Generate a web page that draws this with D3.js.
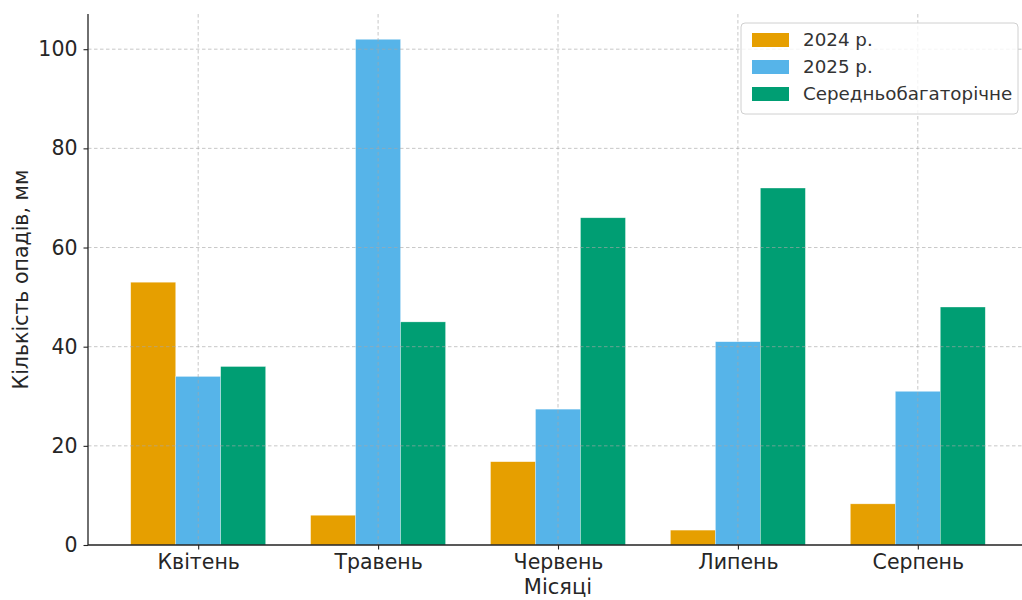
<!DOCTYPE html>
<html>
<head>
<meta charset="utf-8">
<script src="https://cdn.jsdelivr.net/npm/d3@7"></script>
<style>
  html, body { margin: 0; padding: 0; background: #fff; }
  svg { display: block; font-family: "DejaVu Sans", sans-serif; }
</style>
</head>
<body>
<svg id="chart" width="1022" height="600"></svg>
<script>
// Monthly precipitation, mm
const months = ["Квітень", "Травень", "Червень", "Липень", "Серпень"];
const seriesNames = ["2024 р.", "2025 р.", "Середньобагаторічне"];
const values2024 = [53, 6, 16.8, 3, 8.3];
const values2025 = [34, 102, 27.4, 41, 31];
const valuesNorm = [36, 45, 66, 72, 48];
const yTicks = [0, 20, 40, 60, 80, 100];
const colors = ["#E69F00", "#56B4E9", "#009E73"];

const series = [values2024, values2025, valuesNorm];

const svg = d3.select("#chart");
const plotLeft = 88, plotRight = 1028, plotTop = 14, plotBottom = 545;

const barW = 0.25;
const x = d3.scaleLinear()
  .domain([-0.6125, months.length - 1 + 0.6125])
  .range([plotLeft, plotRight]);
const yMax = d3.max(series.flat()) * 1.05;
const y = d3.scaleLinear().domain([0, yMax]).range([plotBottom, plotTop]);

// Bars
series.forEach((vals, si) => {
  svg.append("g")
    .selectAll("rect")
    .data(vals)
    .join("rect")
    .attr("x", (d, i) => x(i + (si - 1) * barW - barW / 2))
    .attr("width", x(barW) - x(0))
    .attr("y", d => y(d))
    .attr("height", d => y(0) - y(d))
    .attr("fill", colors[si])
    .attr("stroke", "#fff")
    .attr("stroke-opacity", 0.5)
    .attr("stroke-width", 0.6);
});

// Dashed grid on top of bars
const grid = svg.append("g").attr("stroke", "#a8a8a8").attr("stroke-opacity", 0.7)
  .attr("stroke-width", 0.9).attr("stroke-dasharray", "3.5,2.5");
grid.selectAll("line.h").data(yTicks.filter(t => t > 0)).join("line")
  .attr("x1", plotLeft).attr("x2", plotRight)
  .attr("y1", d => y(d)).attr("y2", d => y(d));
grid.selectAll("line.v").data(months.map((m, i) => i)).join("line")
  .attr("x1", d => x(d)).attr("x2", d => x(d))
  .attr("y1", plotTop).attr("y2", plotBottom);

// Axes
const xAxis = d3.axisBottom(x)
  .tickValues(months.map((m, i) => i))
  .tickFormat(i => months[i])
  .tickSize(4.5).tickPadding(5);
const yAxis = d3.axisLeft(y)
  .tickValues(yTicks)
  .tickSize(4.5).tickPadding(6);

const gx = svg.append("g").attr("transform", `translate(0,${plotBottom})`).call(xAxis);
const gy = svg.append("g").attr("transform", `translate(${plotLeft},0)`).call(yAxis);
[gx, gy].forEach(g => {
  g.select(".domain").attr("stroke", "#222").attr("stroke-width", 1.3);
  g.selectAll(".tick line").attr("stroke", "#222").attr("stroke-width", 1.1);
  g.selectAll(".tick text").attr("fill", "#262626").style("font-size", "20.5px")
    .style("font-family", "'DejaVu Sans', sans-serif");
});
gx.select(".domain").attr("d", `M${plotLeft},0H${plotRight}`);
gy.select(".domain").attr("d", `M0,${plotBottom}V${plotTop}`);

// Axis titles
svg.append("text")
  .attr("x", 558).attr("y", 594)
  .attr("text-anchor", "middle")
  .attr("fill", "#262626").style("font-size", "21px")
  .text("Місяці");
svg.append("text")
  .attr("transform", `translate(28,${(plotTop + plotBottom) / 2}) rotate(-90)`)
  .attr("text-anchor", "middle")
  .attr("fill", "#262626").style("font-size", "20.5px")
  .text("Кількість опадів, мм");

// Legend
const lg = svg.append("g").attr("transform", "translate(741,23)");
lg.append("rect")
  .attr("width", 277).attr("height", 91).attr("rx", 4)
  .attr("fill", "#fff").attr("fill-opacity", 0.8)
  .attr("stroke", "#d0d0d0").attr("stroke-width", 1);
seriesNames.forEach((name, i) => {
  const row = lg.append("g").attr("transform", `translate(11,${10 + i * 27})`);
  row.append("rect").attr("width", 37).attr("height", 14).attr("fill", colors[i]);
  row.append("text").attr("x", 51).attr("y", 13)
    .attr("fill", "#333").style("font-size", "18.3px").text(name);
});
</script>
</body>
</html>
